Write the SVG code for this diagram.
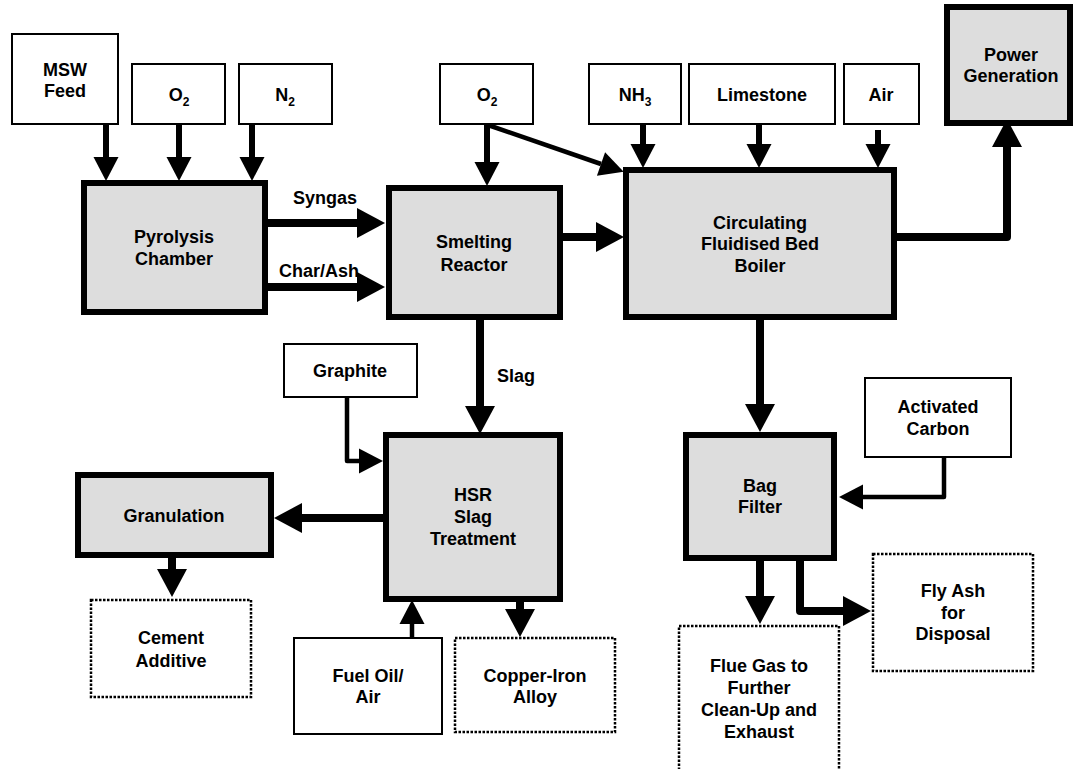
<svg xmlns="http://www.w3.org/2000/svg" width="1075" height="769" viewBox="0 0 1075 769">
  <style>
    text { font-family: "Liberation Sans", Arial, sans-serif; font-weight: bold; font-size: 18px; fill: #000; }
    .c { text-anchor: middle; }
    .sub { font-size: 12px; }
    .unit { fill: #DDDDDD; stroke: #000; stroke-width: 6; }
    .feed { fill: #fff; stroke: #000; stroke-width: 2; }
    .prod { fill: #fff; stroke: #000; stroke-width: 2.5; stroke-dasharray: 2.5 1.5; }
    .flow { fill: none; stroke: #000; stroke-width: 8; stroke-linejoin: round; }
    .feedflow { fill: none; stroke: #000; stroke-width: 6; stroke-linejoin: round; }
    .aux { fill: none; stroke: #000; stroke-width: 4.5; stroke-linejoin: round; }
  </style>
  <defs>
    <marker id="headL" markerUnits="userSpaceOnUse" markerWidth="28" markerHeight="30" refX="0" refY="15" orient="auto" overflow="visible">
      <path d="M0,0 L28,15 L0,30 Z" fill="#000"/>
    </marker>
    <marker id="headS" markerUnits="userSpaceOnUse" markerWidth="24" markerHeight="25" refX="0" refY="12.5" orient="auto" overflow="visible">
      <path d="M0,0 L24,12.5 L0,25 Z" fill="#000"/>
    </marker>
  </defs>

  <!-- connectors -->
  <g id="connectors">
    <!-- feeds into pyrolysis chamber -->
    <path class="feedflow" d="M106,125 V157" marker-end="url(#headS)"/>
    <path class="feedflow" d="M179,125 V157" marker-end="url(#headS)"/>
    <path class="feedflow" d="M252,125 V157" marker-end="url(#headS)"/>
    <!-- pyrolysis products -->
    <path class="flow" d="M268,223 H357" marker-end="url(#headL)"/>
    <path class="flow" d="M268,287 H357" marker-end="url(#headL)"/>
    <!-- oxygen to smelting reactor and boiler -->
    <path class="feedflow" d="M487,125 V162" marker-end="url(#headS)"/>
    <path class="aux" d="M488,125 L601,164" marker-end="url(#headS)"/>
    <!-- smelting reactor to boiler -->
    <path class="flow" d="M563,237 H596" marker-end="url(#headL)"/>
    <!-- boiler feeds -->
    <path class="feedflow" d="M643,125 V144" marker-end="url(#headS)"/>
    <path class="feedflow" d="M759,125 V144" marker-end="url(#headS)"/>
    <path class="feedflow" d="M878,130 V144" marker-end="url(#headS)"/>
    <!-- boiler to power generation -->
    <path class="flow" d="M897,237 H1007 V147" marker-end="url(#headL)"/>
    <!-- slag to HSR -->
    <path class="flow" d="M480,320 V406" marker-end="url(#headL)"/>
    <!-- graphite to HSR -->
    <path class="aux" d="M347,398 V461 H359" marker-end="url(#headS)"/>
    <!-- HSR to granulation -->
    <path class="flow" d="M383,518 H302" marker-end="url(#headL)"/>
    <!-- granulation to cement additive -->
    <path class="flow" d="M172,558 V569" marker-end="url(#headL)"/>
    <!-- fuel oil / air to HSR -->
    <path class="aux" d="M412,637 V624" marker-end="url(#headS)"/>
    <!-- HSR to copper-iron alloy -->
    <path class="flow" d="M520,602 V609" marker-end="url(#headL)"/>
    <!-- boiler to bag filter -->
    <path class="flow" d="M760,320 V404" marker-end="url(#headL)"/>
    <!-- activated carbon to bag filter -->
    <path class="aux" d="M944,458 V497 H863" marker-end="url(#headS)"/>
    <!-- bag filter outputs -->
    <path class="flow" d="M760,561 V596" marker-end="url(#headL)"/>
    <path class="flow" d="M800,561 V611 H843" marker-end="url(#headL)"/>
  </g>

  <!-- input streams -->
  <g id="msw-feed">
    <rect class="feed" x="12" y="34" width="106" height="90"/>
    <text class="c" x="65" y="76">MSW</text>
    <text class="c" x="65" y="97">Feed</text>
  </g>
  <g id="o2-pyrolysis">
    <rect class="feed" x="132" y="64" width="93" height="60"/>
    <text class="c" x="179" y="101">O<tspan class="sub" dy="5">2</tspan></text>
  </g>
  <g id="n2">
    <rect class="feed" x="239" y="64" width="93" height="60"/>
    <text class="c" x="285" y="101">N<tspan class="sub" dy="5">2</tspan></text>
  </g>
  <g id="o2-smelting">
    <rect class="feed" x="440" y="64" width="93" height="60"/>
    <text class="c" x="487" y="101">O<tspan class="sub" dy="5">2</tspan></text>
  </g>
  <g id="nh3">
    <rect class="feed" x="589" y="64" width="92" height="60"/>
    <text class="c" x="635" y="101">NH<tspan class="sub" dy="5">3</tspan></text>
  </g>
  <g id="limestone">
    <rect class="feed" x="689" y="64" width="146" height="60"/>
    <text class="c" x="762" y="101">Limestone</text>
  </g>
  <g id="air">
    <rect class="feed" x="844" y="64" width="75" height="60"/>
    <text class="c" x="881" y="101">Air</text>
  </g>
  <g id="graphite">
    <rect class="feed" x="284" y="344" width="133" height="53"/>
    <text class="c" x="350" y="377">Graphite</text>
  </g>
  <g id="activated-carbon">
    <rect class="feed" x="865" y="378" width="146" height="79"/>
    <text class="c" x="938" y="413">Activated</text>
    <text class="c" x="938" y="435">Carbon</text>
  </g>
  <g id="fuel-oil-air">
    <rect class="feed" x="294" y="638" width="148" height="96"/>
    <text class="c" x="368" y="682">Fuel Oil/</text>
    <text class="c" x="368" y="703">Air</text>
  </g>

  <!-- process units -->
  <g id="pyrolysis-chamber">
    <rect class="unit" x="84" y="183" width="181" height="129"/>
    <text class="c" x="174" y="243">Pyrolysis</text>
    <text class="c" x="174" y="265">Chamber</text>
  </g>
  <g id="smelting-reactor">
    <rect class="unit" x="389" y="188" width="171" height="129"/>
    <text class="c" x="474" y="248">Smelting</text>
    <text class="c" x="474" y="271">Reactor</text>
  </g>
  <g id="cfb-boiler">
    <rect class="unit" x="626" y="170" width="268" height="147"/>
    <text class="c" x="760" y="229">Circulating</text>
    <text class="c" x="760" y="250">Fluidised Bed</text>
    <text class="c" x="760" y="272">Boiler</text>
  </g>
  <g id="power-generation">
    <rect class="unit" x="947" y="7" width="123" height="116"/>
    <text class="c" x="1011" y="61">Power</text>
    <text class="c" x="1011" y="82">Generation</text>
  </g>
  <g id="hsr-slag-treatment">
    <rect class="unit" x="386" y="435" width="174" height="164"/>
    <text class="c" x="473" y="501">HSR</text>
    <text class="c" x="473" y="523">Slag</text>
    <text class="c" x="473" y="545">Treatment</text>
  </g>
  <g id="granulation">
    <rect class="unit" x="78" y="475" width="193" height="80"/>
    <text class="c" x="174" y="522">Granulation</text>
  </g>
  <g id="bag-filter">
    <rect class="unit" x="686" y="435" width="148" height="123"/>
    <text class="c" x="760" y="492">Bag</text>
    <text class="c" x="760" y="513">Filter</text>
  </g>

  <!-- products -->
  <g id="cement-additive">
    <rect class="prod" x="91" y="600" width="160" height="97"/>
    <text class="c" x="171" y="644">Cement</text>
    <text class="c" x="171" y="667">Additive</text>
  </g>
  <g id="copper-iron-alloy">
    <rect class="prod" x="455" y="638" width="160" height="94"/>
    <text class="c" x="535" y="682">Copper-Iron</text>
    <text class="c" x="535" y="703">Alloy</text>
  </g>
  <g id="fly-ash">
    <rect class="prod" x="873" y="554" width="160" height="117"/>
    <text class="c" x="953" y="597">Fly Ash</text>
    <text class="c" x="953" y="619">for</text>
    <text class="c" x="953" y="640">Disposal</text>
  </g>
  <g id="flue-gas">
    <rect class="prod" x="679" y="626" width="160" height="160"/>
    <text class="c" x="759" y="672">Flue Gas to</text>
    <text class="c" x="759" y="694">Further</text>
    <text class="c" x="759" y="716">Clean-Up and</text>
    <text class="c" x="759" y="738">Exhaust</text>
  </g>

  <!-- stream labels -->
  <g id="stream-labels">
    <text x="293" y="204">Syngas</text>
    <text x="279" y="277">Char/Ash</text>
    <text x="497" y="382">Slag</text>
  </g>
</svg>
